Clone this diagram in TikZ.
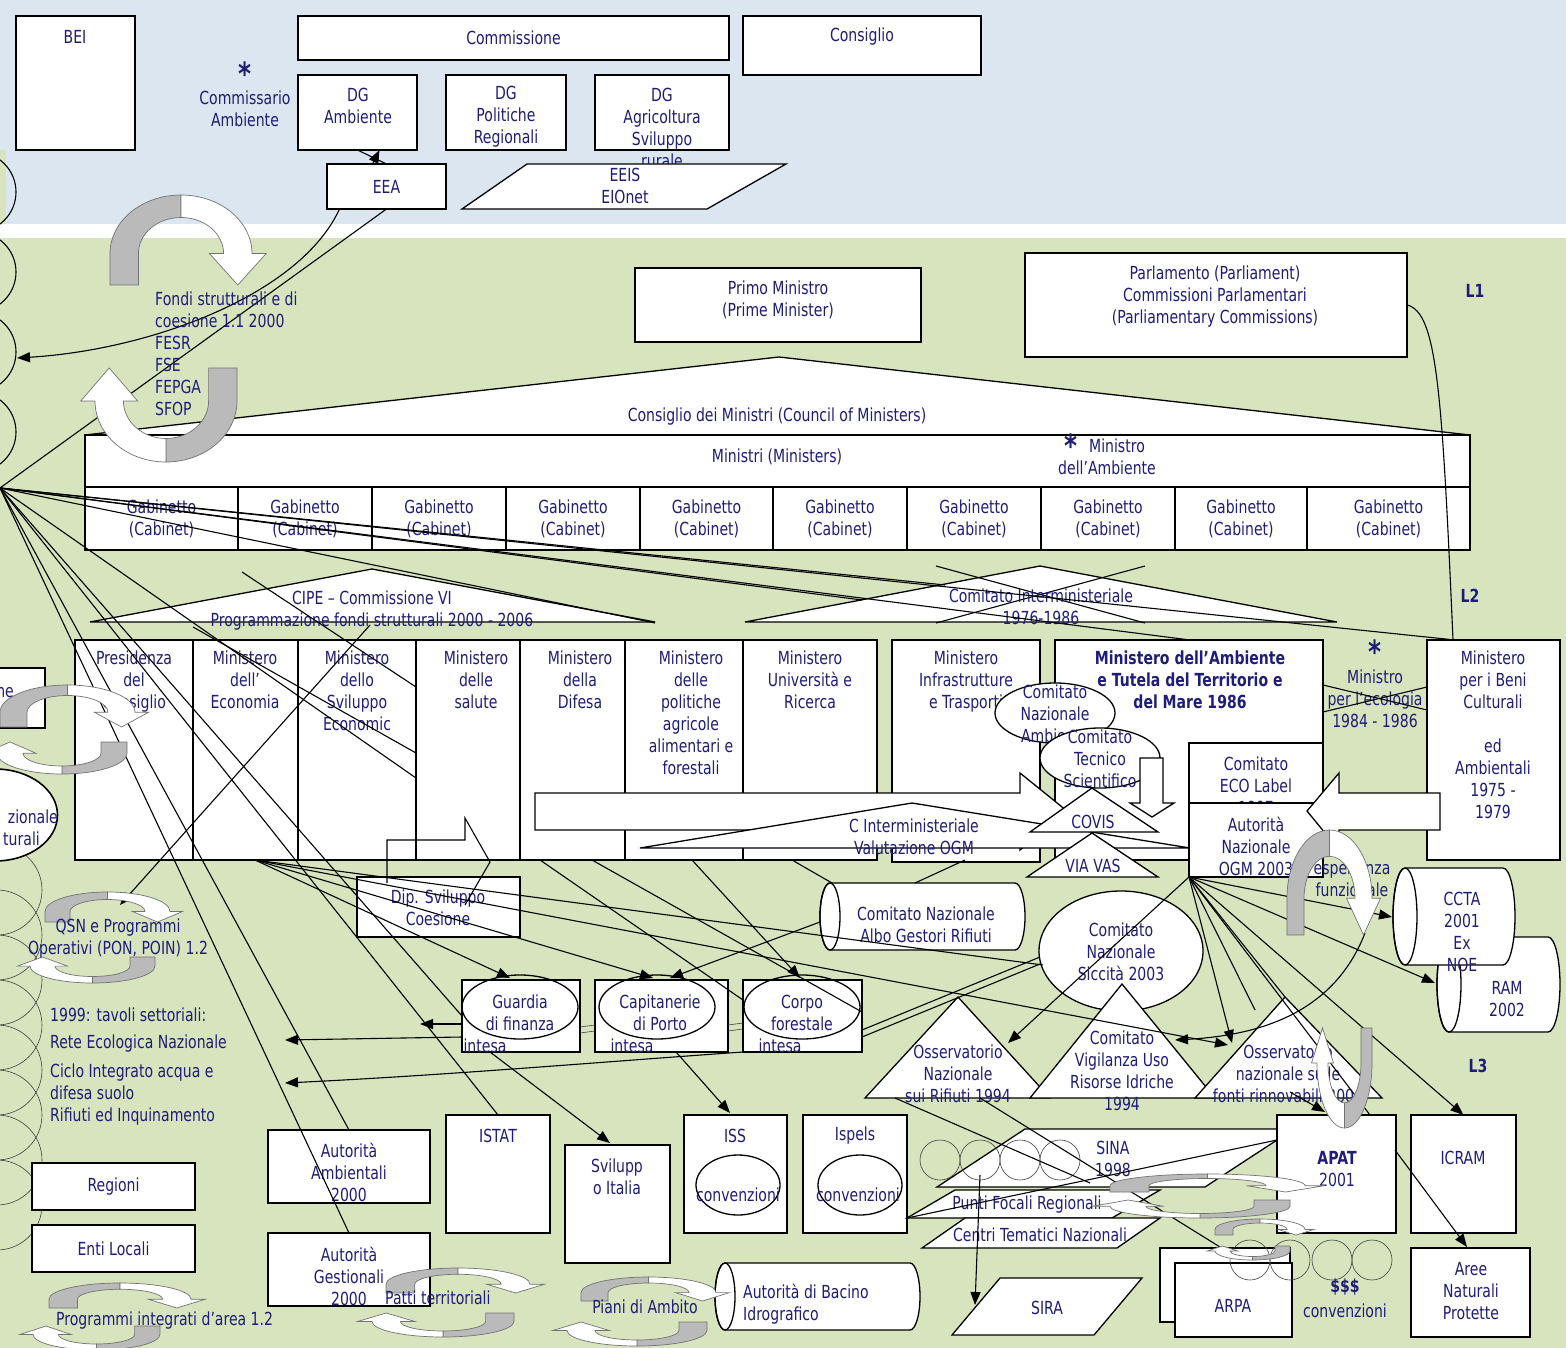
\documentclass[tikz,border=0pt]{standalone}
\usepackage{fontspec}
\setmainfont{DejaVu Sans}[FakeStretch=0.78]
\usetikzlibrary{arrows.meta,shapes.geometric}
\definecolor{navy}{RGB}{30,30,120}
\definecolor{bgblue}{RGB}{220,230,241}
\definecolor{bggreen}{RGB}{215,228,189}
\newcommand\fs{\fontsize{18}{22}\selectfont}
\newcommand\fstar{\fontsize{32}{32}\selectfont\bfseries}
\tikzset{
 uarr/.pic={
  \filldraw[fill=black!27, draw=black!55, line width=0.7pt] (0,0) -- (0,0.35) arc[start angle=180,end angle=90,x radius=0.5,y radius=0.65] -- (0.5,0.75) arc[start angle=90,end angle=180,x radius=0.3,y radius=0.4] -- (0.2,0) -- cycle;
  \filldraw[fill=white, draw=black!55, line width=0.7pt] (0.5,1) arc[start angle=90,end angle=0,x radius=0.5,y radius=0.65] -- (1.1,0.35) -- (0.9,0) -- (0.7,0.35) -- (0.8,0.35) arc[start angle=0,end angle=90,x radius=0.3,y radius=0.4] -- cycle;
 }
}
\newcommand\mkbox[5]{\node[box,minimum width={#4-#2},minimum height={#5-#3}] (#1) at ({(#2+#4)/2},{(#3+#5)/2}) {};}
\newcommand\mkcyl[6]{%
 \filldraw[shp] ({#2+#6},#3) -- ({#4-#6},#3) arc[start angle=-90,end angle=90,x radius=#6,y radius={(#5-#3)/2}] -- ({#2+#6},#5) arc[start angle=90,end angle=270,x radius=#6,y radius={(#5-#3)/2}] -- cycle;
 \draw[line width=1.3pt] ({#2+#6},{(#3+#5)/2}) ellipse[x radius=#6,y radius={(#5-#3)/2}];
 \coordinate (#1) at ({(#2+#4)/2},{(#3+#5)/2});}
\begin{document}
\begin{tikzpicture}[x=1pt,y=-1pt,
 box/.style={draw, fill=white, line width=1.3pt, inner sep=0pt, outer sep=0pt},
 shp/.style={draw, fill=white, line width=1.3pt},
 txt/.style={text=navy, align=center, inner sep=0pt, font=\fs},
 btxt/.style={txt, font=\fs\bfseries},
 star/.style={text=navy, inner sep=0pt, font=\fstar},
 ell/.style={ellipse, draw, line width=1.3pt, inner sep=0pt},
 ln/.style={line width=1.1pt},
 arr/.style={line width=1.1pt, -{Triangle[length=13pt,width=10pt]}},
 thn/.style={line width=0.6pt, draw=black!75}]
\useasboundingbox (0,0) rectangle (1566,1348);
\clip (0,0) rectangle (1566,1348);
% backgrounds
\fill[bgblue] (0,0) rectangle (1566,224);
\fill[white] (0,224) rectangle (1566,238);
\fill[bggreen] (0,238) rectangle (1566,1348);
\fill[bggreen] (0,150) rectangle (6,224);
\foreach \yy in {192,272,352,432} \draw[line width=1.1pt] (-24,\yy) circle (40);
\foreach \yy in {890,935,980,1025,1070,1115,1160,1205} \draw[thn] (-3,\yy) circle (45);

% ---------- EU level
\mkbox{bei}{16}{16}{135}{150}
\node[txt] (beit) at (75,37) {BEI};
\mkbox{comm}{298}{16}{729}{60}
\node[txt] (commt) at (comm) {Commissione};
\mkbox{cons}{743}{16}{981}{75}
\node[txt] (const) at (862,37) {Consiglio};
\node[star] (star1) at (245,74) {*};
\node[txt] (commamb) at (245,109) {Commissario\\Ambiente};
\mkbox{dgamb}{298}{75}{417}{150}
\node[txt] (dgambt) at (358,106) {DG\\Ambiente};
\mkbox{dgpol}{446}{75}{566}{150}
\node[txt] (dgpolt) at (506,117) {DG\\Politiche\\Regionali};
\mkbox{dgagr}{595}{75}{729}{150}
\node[txt] (dgagrt) at (662,128) {DG\\Agricoltura\\Sviluppo\\rurale};
\mkbox{eea}{327}{164}{446}{209}
\node[txt] (eeat) at (eea) {EEA};
\filldraw[shp] (462,209) -- (527,164) -- (786,164) -- (707,209) -- cycle;
\node[txt] (eeis) at (625,186) {EEIS\\EIOnet};
\draw[ln] (dgamb.south) -- (eea.north);
\draw[arr] ([xshift=-14pt]eea.north) -- ([xshift=22pt]dgamb.south);

\coordinate (fondiL) at (17,358);
\coordinate (fan) at (0,488);
\draw[arr] ([xshift=-47pt]eea.south) .. controls (300,295) and (150,350) .. (fondiL);
\draw[ln] (eea.south) -- (fan);

% ---------- national level
\mkbox{pm}{635}{268}{921}{342}
\node[txt] (pmt) at (778,300) {Primo Ministro\\(Prime Minister)};
\mkbox{parl}{1025}{253}{1407}{357}
\node[txt] (parlt) at (1215,297) {Parlamento (Parliament)\\Commissioni Parlamentari\\(Parliamentary Commissions)};
\node[btxt] (l1) at (1475,291) {L1};
\filldraw[shp] (85,435) -- (779,357) -- (1470,435) -- cycle;
\node[txt] (council) at (777,417) {Consiglio dei Ministri (Council of Ministers)};
\mkbox{ministri}{85}{435}{1470}{487}
\node[txt] (ministrit) at (777,457) {Ministri (Ministers)};
\node[star] (star2) at (1071,446) {*};
\node[txt] (minamb) at (1107,457) {\hspace*{20pt}Ministro\\dell’Ambiente};
\foreach \a/\b [count=\i] in {85/238,238/372,372/506,506/640,640/773,773/907,907/1041,1041/1175,1175/1307,1307/1470}
 {\mkbox{gab\i}{\a}{487}{\b}{550}
  \node[txt] (gabt\i) at (gab\i) {Gabinetto\\(Cabinet)};}
\node[btxt] (l2) at (1470,596) {L2};

\filldraw[shp] (90,622) -- (372,569) -- (655,622) -- cycle;
\node[txt] (cipe) at (372,611) {CIPE – Commissione VI\\Programmazione fondi strutturali 2000 - 2006};
\filldraw[shp] (745,622) -- (1040,566) -- (1337,622) -- cycle;
\draw[ln] (936,566) -- (1145,623);
\draw[ln] (1145,566) -- (936,623);
\node[txt] (cinter) at (1041,607) {Comitato Interministeriale\\1976-1986};

% ministries
\mkbox{m1}{75}{640}{193}{860}
\mkbox{m2}{193}{640}{298}{860}
\mkbox{m3}{298}{640}{416}{860}
\mkbox{m4}{416}{640}{520}{860}
\mkbox{m5}{520}{640}{625}{860}
\mkbox{m6}{625}{640}{743}{860}
\mkbox{m7}{743}{640}{877}{860}
\mkbox{m8}{892}{640}{1040}{862}
\mkbox{m9}{1055}{640}{1323}{860}
\mkbox{beni}{1427}{640}{1560}{860}
\node[txt,anchor=north] (m1t) at (134,651) {Presidenza\\del\\Consiglio};
\node[txt,anchor=north] (m2t) at (245,651) {Ministero\\dell’\\Economia};
\node[txt,anchor=north] (m3t) at (357,651) {Ministero\\dello\\Sviluppo\\Economic};
\node[txt,anchor=north] (m4t) at (476,651) {Ministero\\delle\\salute};
\node[txt,anchor=north] (m5t) at (580,651) {Ministero\\della\\Difesa};
\node[txt,anchor=north] (m6t) at (691,651) {Ministero\\delle\\politiche\\agricole\\alimentari e\\forestali};
\node[txt,anchor=north] (m7t) at (810,651) {Ministero\\Università e\\Ricerca};
\node[txt,anchor=north] (m8t) at (966,651) {Ministero\\Infrastrutture\\e Trasporti};
\node[btxt,anchor=north] (m9t) at (1190,651) {Ministero dell’Ambiente\\e Tutela del Territorio e\\del Mare 1986};
\node[txt,anchor=north] (benit) at (1493,651) {Ministero\\per i Beni\\Culturali\\\\ed\\Ambientali\\1975 -\\1979};
\node[star] (star3) at (1375,652) {*};
\node[txt] (ecol) at (1375,699) {Ministro\\per l’ecologia\\1984 - 1986};

\filldraw[shp] (535,793) -- (1020,793) -- (1020,773) -- (1067,811) -- (1020,850) -- (1020,830) -- (535,830) -- cycle;
\filldraw[shp] (640,848) -- (912,803) -- (1190,848) -- cycle;
\node[txt] (cival) at (914,837) {C Interministeriale\\Valutazione OGM};
\node[ell, fill=white, minimum width=120, minimum height=60] (cnaE) at (1055,713) {};
\node[txt] (cnat) at (1055,714) {Comitato\\Nazionale\\Ambiente};
\node[ell, fill=white, minimum width=120, minimum height=60] (ctsE) at (1100,758) {};
\node[txt] (ctst) at (1100,759) {Comitato\\Tecnico\\Scientifico};
\filldraw[shp] (1140,758) -- (1163,758) -- (1163,803) -- (1174,803) -- (1152,817) -- (1130,803) -- (1140,803) -- cycle;
\filldraw[shp] (1030,832) -- (1092,788) -- (1158,832) -- cycle;
\node[txt] (covis) at (1093,822) {COVIS};
\filldraw[shp] (1027,877) -- (1092,833) -- (1158,877) -- cycle;
\node[txt] (viavas) at (1093,866) {VIA VAS};
\mkbox{eco}{1189}{743}{1323}{803}
\node[txt] (ecot) at (1256,786) {Comitato\\ECO Label\\1997};
\mkbox{ogm}{1189}{803}{1323}{877}
\node[txt] (ogmt) at (1256,846) {Autorità\\Nazionale\\OGM 2003};
\filldraw[shp] (1440,793) -- (1339,793) -- (1339,773) -- (1307,811) -- (1339,850) -- (1339,830) -- (1440,830) -- cycle;
\node[txt] (esp) at (1352,879) {esperienza\\funzionale};

% left side items
\mkbox{nebox}{-60}{668}{45}{728}
\node[txt,anchor=east] (net) at (14,693) {ne};
\node[ell, fill=white, line width=1.6pt, minimum width=125, minimum height=92] (leftell) at (-5,815) {};
\node[txt,anchor=east] (lefta) at (58,817) {zionale};
\node[txt,anchor=east] (leftb) at (40,839) {turali};

% ---------- lower level
\mkbox{dip}{357}{877}{520}{937}
\node[txt] (dipt) at (438,908) {Dip. Sviluppo\\Coesione};
\draw[ln] (387,883) -- (387,840) -- (465,840) -- (465,818) -- (490,862) -- (465,905);
\mkcyl{albo}{820}{883}{1025}{950}{10}
\node[txt] (albot) at (926,925) {Comitato Nazionale\\Albo Gestori Rifiuti};
\node[ell, fill=white, minimum width=164, minimum height=120] (sicc) at (1121,951) {};
\node[txt] (sicct) at (1121,952) {Comitato\\Nazionale\\Siccità 2003};
\mkcyl{ram}{1437}{937}{1560}{1032}{12}
\node[txt] (ramt) at (1507,999) {RAM\\2002};
\mkcyl{ccta}{1393}{868}{1515}{965}{12}
\node[txt] (cctat) at (1462,932) {CCTA\\2001\\Ex\\NOE};

\mkbox{guard}{462}{980}{580}{1052}
\node[ell, minimum width=116, minimum height=64] (guardE) at (520,1007) {};
\node[txt] (guardt) at (520,1013) {Guardia\\di finanza};
\node[txt] (guardi) at (485,1046) {intesa};
\mkbox{capit}{595}{980}{728}{1052}
\node[ell, minimum width=116, minimum height=64] (capitE) at (657,1007) {};
\node[txt] (capitt) at (660,1013) {Capitanerie\\di Porto};
\node[txt] (capiti) at (632,1046) {intesa};
\mkbox{corpo}{743}{980}{862}{1052}
\node[ell, minimum width=116, minimum height=64] (corpoE) at (802,1007) {};
\node[txt] (corpot) at (802,1013) {Corpo\\forestale};
\node[txt] (corpoi) at (780,1046) {intesa};
\draw[thn] (580,1027) -- (595,1025) (580,1033) -- (595,1031) (728,1025) -- (743,1023) (728,1031) -- (743,1029);

\filldraw[shp] (865,1098) -- (958,997) -- (1050,1098) -- cycle;
\node[txt] (osrt) at (958,1074) {Osservatorio\\Nazionale\\sui Rifiuti 1994};
\filldraw[shp] (1030,1098) -- (1122,984) -- (1215,1098) -- cycle;
\node[txt] (cvut) at (1122,1071) {Comitato\\Vigilanza Uso\\Risorse Idriche\\1994};
\filldraw[shp] (1195,1098) -- (1285,997) -- (1382,1098) -- cycle;
\node[txt] (osft) at (1288,1074) {Osservatorio\\nazionale sulle\\fonti rinnovabili 2004};
\node[btxt] (l3) at (1478,1066) {L3};

\node[txt,anchor=west] (tavoli) at (50,1015) {1999: tavoli settoriali:};
\node[txt,anchor=west] (rete) at (50,1044) {Rete Ecologica Nazionale};
\node[txt,anchor=north west,align=left] (ciclo) at (50,1064) {Ciclo Integrato acqua e\\difesa suolo\\Rifiuti ed Inquinamento};
\mkbox{reg}{32}{1163}{195}{1210}
\node[txt] (regt) at (reg) {Regioni};
\mkbox{enti}{32}{1225}{195}{1272}
\node[txt] (entit) at (enti) {Enti Locali};
\mkbox{autamb}{268}{1130}{430}{1203}
\node[txt] (autambt) at (349,1172) {Autorità\\Ambientali\\2000};
\mkbox{autges}{268}{1233}{430}{1306}
\node[txt] (autgest) at (349,1276) {Autorità\\Gestionali\\2000};
\mkbox{istat}{446}{1115}{550}{1233}
\node[txt] (istatt) at (498,1136) {ISTAT};
\mkbox{svit}{565}{1145}{670}{1263}
\node[txt] (svitt) at (617,1177) {Svilupp\\o Italia};
\mkbox{iss}{684}{1115}{787}{1233}
\node[txt] (isst) at (735,1136) {ISS};
\node[ell, minimum width=84, minimum height=60] (issE) at (738,1185) {};
\node[txt] (issc) at (738,1195) {convenzioni};
\mkbox{ispels}{803}{1115}{907}{1233}
\node[txt] (ispelst) at (855,1136) {Ispels};
\node[ell, minimum width=84, minimum height=60] (ispelsE) at (860,1185) {};
\node[txt] (ispelsc) at (858,1195) {convenzioni};
\mkcyl{bacino}{715}{1263}{920}{1330}{10}
\node[txt,anchor=west,align=left] (bacinot) at (743,1304) {Autorità di Bacino\\Idrografico};

\filldraw[shp] (937,1187) -- (1025,1129) -- (1277,1129) -- (1277,1140) -- (1205,1187) -- cycle;
\node[txt] (sina) at (1113,1159) {SINA\\1998};
\foreach \cx in {940,980,1020,1060} \draw[thn] (\cx,1160) circle (20);
\filldraw[shp] (907,1218) -- (955,1190) -- (1160,1190) -- (1112,1218) -- cycle;
\node[txt] (punti) at (1027,1205) {Punti Focali Regionali};
\filldraw[shp] (922,1248) -- (965,1218) -- (1160,1218) -- (1117,1248) -- cycle;
\node[txt] (centri) at (1040,1235) {Centri Tematici Nazionali};
\filldraw[shp] (952,1335) -- (1000,1278) -- (1142,1278) -- (1094,1335) -- cycle;
\node[txt] (sira) at (1047,1308) {SIRA};
\mkbox{arpa0}{1160}{1248}{1290}{1322}
\mkbox{arpa}{1175}{1263}{1292}{1337}
\node[txt] (arpat) at (1233,1306) {ARPA};
\foreach \cx in {1250,1290,1332,1372} \draw[thn] (\cx,1260) circle (20);
\node[btxt] (dollar) at (1345,1287) {\$\$\$};
\node[txt] (conv) at (1345,1311) {convenzioni};
\mkbox{apat}{1277}{1115}{1396}{1233}
\node[txt] (apatt) at (1337,1169) {\textbf{APAT}\\2001};
\mkbox{icram}{1411}{1115}{1516}{1233}
\node[txt] (icramt) at (1463,1158) {ICRAM};
\mkbox{aree}{1411}{1248}{1530}{1337}
\node[txt] (areet) at (1471,1291) {Aree\\Naturali\\Protette};

% ---------- connectors
\coordinate (ecoB) at (255,860);
\coordinate (ogmB) at (ogm.south west);
\foreach \p in {(1455,640),(1190,640),(945,585),(862,600),(655,623),(416,778),(462,1016)}
 \draw[ln] (fan) -- \p;
\draw[ln] (fan) -- (autamb.north);
\draw[ln] (fan) -- (autges.north);
\draw[ln] (fan) -- (istat.north);
\draw[ln] (193,627) -- (416,753);
\draw[ln] (242,572) -- (416,687);
\draw[arr] (370,625) -- (120,905);
\draw[ln] (parl.east) .. controls (1437,312) and (1442,390) .. (1453,640);
\draw[ln] (1323,685) -- (1427,710);
\draw[ln] (1323,712) -- (1427,687);

\draw[arr] (ecoB) -- (510,978);
\draw[arr] (ecoB) -- (653,978);
\draw[ln] (ecoB) -- (1043,965);
\draw[arr] (ecoB) -- (1228,1045);
\draw[ln] (540,860) -- (743,1000);
\draw[ln] (592,860) -- (862,1012);
\draw[arr] (692,860) -- (800,978);
\draw[ln] (792,860) -- (832,883);
\draw[ln] (965,860) -- (915,883);
\draw[arr] (820,922) -- (670,978);
\draw[ln] (862,1030) -- (1040,957);
\draw[ln] (862,1037) -- (1040,964);

\draw[arr] (462,1024) -- (420,1024);
\draw[arr] (462,1037) -- (285,1040);
\draw[arr] (743,1052) .. controls (600,1062) and (450,1075) .. (285,1083);
\draw[arr] (490,1052) -- (610,1143);
\draw[arr] (676,1052) -- (730,1113);

\draw[arr] (ogmB) -- (1008,1043);
\draw[arr] (ogmB) -- (1232,1043);
\draw[arr] (ogmB) -- (1392,917);
\draw[arr] (ogmB) -- (1435,983);
\draw[arr] (ogmB) -- (icram.north);
\draw[ln] (ogmB) -- (1285,997);
\draw[ln] (ogmB) -- (1370,1115);
\draw[ln] (ogmB) -- (1255,1010);
\draw[arr] (1365,933) .. controls (1335,1010) and (1265,1035) .. (1175,1040);
\draw[arr] (1290,1092) -- (1325,1112);
\draw[ln] (895,1098) -- (1090,1183);
\draw[ln] (980,1098) -- (1220,1247);
\draw[ln] (907,1218) -- (1277,1140);
\draw[arr] (980,1175) -- (975,1305);
\draw[arr] (1395,1150) -- (1467,1247);

% ---------- curved block arrows
\pic[xscale=142,yscale=-90] at (110,285) {uarr};
\pic[xscale=-142,yscale=94] at (237,368) {uarr};
\pic[xscale=135,yscale=-42] at (0,727) {uarr};
\pic[xscale=-130,yscale=32] at (127,742) {uarr};
\pic[xscale=125,yscale=-30] at (45,922) {uarr};
\pic[xscale=-125,yscale=26] at (155,957) {uarr};
\pic[xscale=142,yscale=-25] at (49,1308) {uarr};
\pic[xscale=-127,yscale=24] at (160,1326) {uarr};
\pic[xscale=144,yscale=-25] at (386,1293) {uarr};
\pic[xscale=-142,yscale=24] at (514,1313) {uarr};
\pic[xscale=135,yscale=-24] at (581,1301) {uarr};
\pic[xscale=-140,yscale=24] at (707,1322) {uarr};
\pic[xscale=85,yscale=-105] at (1287,935) {uarr};
\pic[xscale=-55,yscale=100] at (1372,1028) {uarr};
\pic[xscale=195,yscale=-18] at (1110,1192) {uarr};
\pic[xscale=-180,yscale=18] at (1290,1200) {uarr};
\pic[xscale=90,yscale=-16] at (1215,1235) {uarr};
\pic[xscale=-75,yscale=14] at (1290,1246) {uarr};

% texts lying over the curved arrows
\node[txt, align=left, anchor=north west] (fondi) at (155,292) {Fondi strutturali e di\\coesione 1.1 2000\\FESR\\FSE\\FEPGA\\SFOP};
\node[txt] (qsn) at (118,939) {QSN e Programmi\\Operativi (PON, POIN) 1.2};
\node[txt,anchor=west] (progr) at (56,1321) {Programmi integrati d’area 1.2};
\node[txt,anchor=west] (patti) at (385,1298) {Patti territoriali};
\node[txt] (piani) at (645,1307) {Piani di Ambito};
\end{tikzpicture}
\end{document}
